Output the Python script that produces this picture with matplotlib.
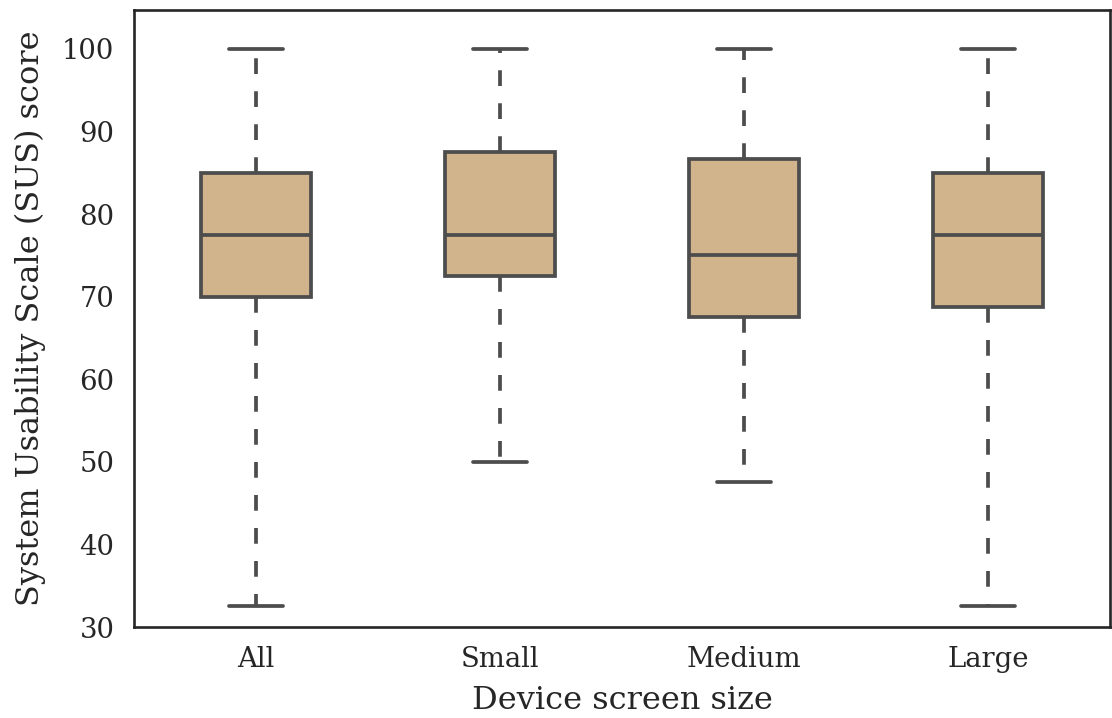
import matplotlib
matplotlib.use("Agg")
import matplotlib.pyplot as plt
import seaborn as sns

# SUS score summary per device screen size group
groups = ["All", "Small", "Medium", "Large"]
whis_low = [32.5, 50.0, 47.5, 32.5]
q1 = [70.0, 72.5, 67.5, 68.75]
medians = [77.5, 77.5, 75.0, 77.5]
q3 = [85.0, 87.5, 86.7, 85.0]
whis_high = [100.0, 100.0, 100.0, 100.0]

sns.set_theme(style="white")
plt.rcParams['font.family'] = ['DejaVu Serif']

line_col = "#4d4d4d"
fill_col = "#d2b48c"

stats = []
for i in range(len(groups)):
    stats.append({"label": groups[i], "whislo": whis_low[i], "q1": q1[i],
                  "med": medians[i], "q3": q3[i], "whishi": whis_high[i],
                  "fliers": []})

fig = plt.figure(figsize=(11.12, 7.18), dpi=100)
ax = fig.add_axes([134/1112, 1 - 627/718, (1110-134)/1112, (627-10)/718])

lw = 2.7
ax.bxp(stats, positions=range(len(groups)), widths=0.45, patch_artist=True,
       showfliers=False,
       boxprops=dict(facecolor=fill_col, edgecolor=line_col, linewidth=lw),
       medianprops=dict(color=line_col, linewidth=lw),
       whiskerprops=dict(color=line_col, linewidth=lw, linestyle=(0, (4.2, 4.6))),
       capprops=dict(color=line_col, linewidth=lw, solid_capstyle="round"))

ax.set_xlim(-0.5, 3.5)
ax.set_ylim(30, 104.7)
ax.set_yticks([30, 40, 50, 60, 70, 80, 90, 100])
ax.set_xticks(range(len(groups)))
ax.set_xticklabels(groups)
ax.tick_params(axis="both", labelsize=19.8, colors="#262626", length=0, pad=14)
ax.set_xlabel("Device screen size", fontsize=23, color="#262626", labelpad=8)
ax.set_ylabel("System Usability Scale (SUS) score", fontsize=23, color="#262626", labelpad=12)
for s in ax.spines.values():
    s.set_color("#262626")
    s.set_linewidth(1.9)

fig.savefig("out.png", dpi=100)
